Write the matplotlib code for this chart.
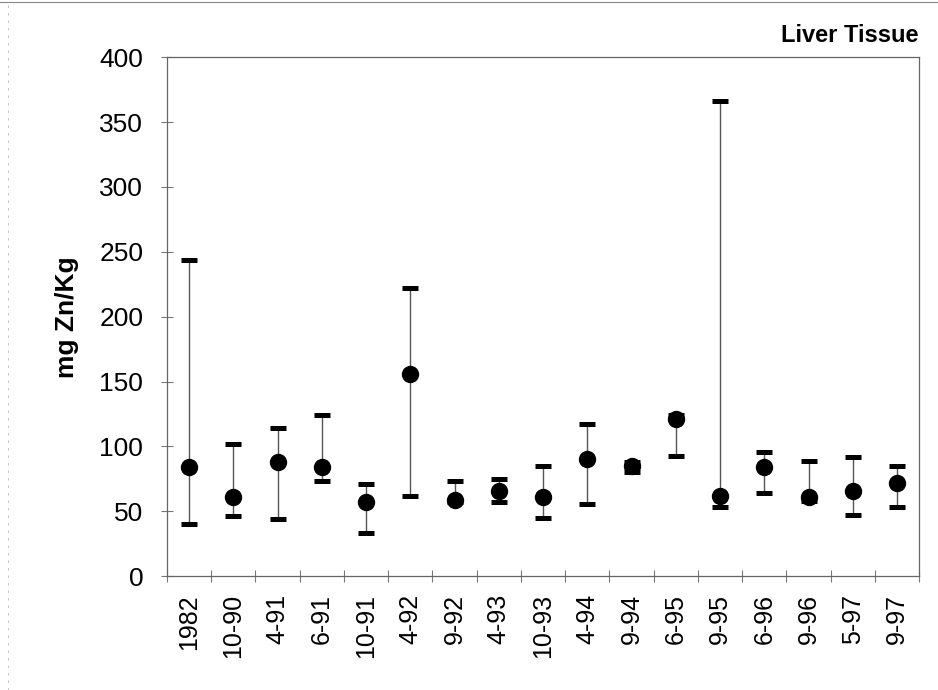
import matplotlib
matplotlib.use("Agg")
import matplotlib.pyplot as plt
from matplotlib.lines import Line2D
import numpy as np

plt.rcParams["font.family"] = ["Liberation Sans", "DejaVu Sans"]

dates = ["1982", "10-90", "4-91", "6-91", "10-91", "4-92", "9-92", "4-93",
         "10-93", "4-94", "9-94", "6-95", "9-95", "6-96", "9-96", "5-97", "9-97"]
mean_zn = [84, 61, 88, 84, 57, 156, 59, 66, 61, 90, 85, 121, 62, 84, 61, 66, 72]
min_zn = [40, 46, 44, 73, 33, 62, 57, 57, 45, 56, 80, 93, 53, 64, 58, 47, 53]
max_zn = [244, 102, 114, 124, 71, 222, 73, 75, 85, 117, 88, 124, 366, 96, 89, 92, 85]


def plot_liver(dates, mean_zn, min_zn, max_zn):
    fig = plt.figure(figsize=(9.38, 6.90), dpi=100)
    ax = fig.add_axes([0.178, 0.165, 0.802, 0.752])

    x = np.arange(len(dates))
    mean_arr = np.array(mean_zn)
    lower = mean_arr - np.array(min_zn)
    upper = np.array(max_zn) - mean_arr

    ax.errorbar(x, mean_arr, yerr=[lower, upper], fmt="o", color="black",
                ecolor="#555555", elinewidth=1.0, markersize=11.5, capsize=0)
    # min / max caps
    ax.scatter(x, min_zn, marker="_", s=135, linewidths=3.6, color="black", zorder=4)
    ax.scatter(x, max_zn, marker="_", s=135, linewidths=3.6, color="black", zorder=4)

    ax.set_xlim(-0.5, len(dates) - 0.5)
    ax.set_ylim(0, 400)
    ax.set_yticks(range(0, 401, 50))
    ax.set_xticks(x)
    ax.set_xticklabels(dates, rotation=90, fontsize=18)
    ax.set_xticks(np.arange(-0.5, len(dates), 1.0), minor=True)
    ax.tick_params(axis="x", which="major", length=0, pad=13)
    ax.tick_params(axis="x", which="minor", length=8, direction="inout",
                   color="#777777", width=0.8)
    ax.tick_params(axis="y", labelsize=19, length=8, direction="inout",
                   color="#777777", width=0.8, pad=13)

    for spine in ax.spines.values():
        spine.set_color("#666666")
        spine.set_linewidth(0.9)

    ax.set_ylabel("mg Zn/Kg", fontsize=19, fontweight="bold")
    ax.yaxis.set_label_coords((79 - 167) / 752.0, 0.5)

    fig.text(0.979, 0.949, "Liver Tissue", ha="right", va="center",
             fontsize=17, fontweight="bold")

    # scanned page border lines
    fig.add_artist(Line2D([0.0, 1.0], [0.997, 0.997], color="#888888", lw=0.8))
    fig.add_artist(Line2D([0.008, 0.008], [0.0, 1.0], color="#bbbbbb", lw=0.6,
                          linestyle=(0, (3, 6))))

    fig.savefig("out.png", dpi=100)


if __name__ == "__main__":
    plot_liver(dates, mean_zn, min_zn, max_zn)
